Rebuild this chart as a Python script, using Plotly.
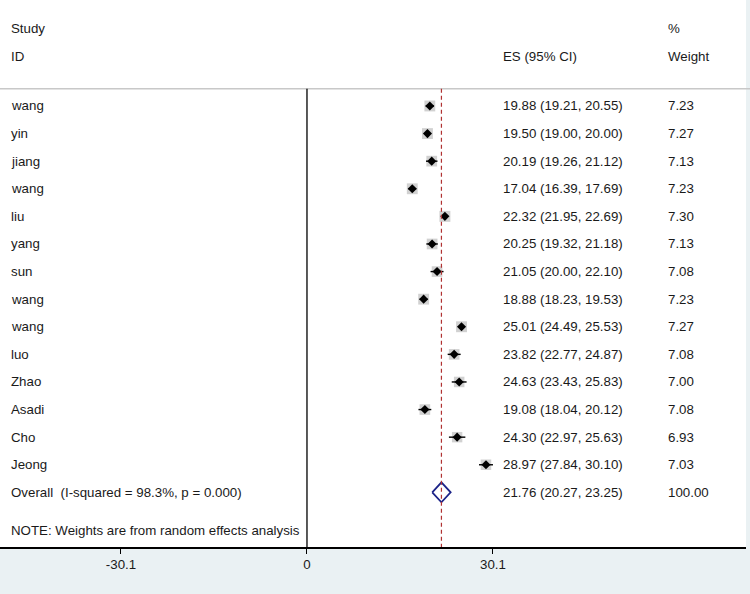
import plotly.graph_objects as go

studies = ["wang", "yin", "jiang", "wang", "liu", "yang", "sun", "wang", "wang",
           "luo", "Zhao", "Asadi", "Cho", "Jeong"]
es = [19.88, 19.50, 20.19, 17.04, 22.32, 20.25, 21.05, 18.88, 25.01, 23.82, 24.63, 19.08, 24.30, 28.97]
lo = [19.21, 19.00, 19.26, 16.39, 21.95, 19.32, 20.00, 18.23, 24.49, 22.77, 23.43, 18.04, 22.97, 27.84]
hi = [20.55, 20.00, 21.12, 17.69, 22.69, 21.18, 22.10, 19.53, 25.53, 24.87, 25.83, 20.12, 25.63, 30.10]
weights = [7.23, 7.27, 7.13, 7.23, 7.30, 7.13, 7.08, 7.23, 7.27, 7.08, 7.00, 7.08, 6.93, 7.03]

overall_label = "Overall  (I-squared = 98.3%, p = 0.000)"
overall_es, overall_lo, overall_hi, overall_w = 21.76, 20.27, 23.25, 100.00
note = "NOTE: Weights are from random effects analysis"
tick_vals = [-30.1, 0, 30.1]
tick_text = ["-30.1", "0", "30.1"]

FONT = "Liberation Sans, Arial, Helvetica, sans-serif"
TXT = "#1a1a1a"
FS = 13.3

rows = list(range(len(studies)))
overall_row = len(studies)
note_row = 15.38
sep_row = -0.62
y_bottom = 15.98
y_top = -3.84

fig = go.Figure()

# weight squares
fig.add_trace(go.Scatter(
    x=es, y=rows, mode="markers",
    marker=dict(symbol="square", color="#bdbdbd",
                size=[w * 1.5 for w in weights], line=dict(width=0)),
    hoverinfo="skip", showlegend=False))

# CI lines + point estimate diamonds
fig.add_trace(go.Scatter(
    x=es, y=rows, mode="markers",
    marker=dict(symbol="diamond", color="black", size=7, line=dict(width=0)),
    error_x=dict(type="data", symmetric=False,
                 array=[h - e for h, e in zip(hi, es)],
                 arrayminus=[e - l for e, l in zip(es, lo)],
                 color="black", thickness=1.4, width=0),
    hoverinfo="skip", showlegend=False))

# overall diamond
hh = 0.36
fig.add_trace(go.Scatter(
    x=[overall_lo, overall_es, overall_hi, overall_es, overall_lo],
    y=[overall_row, overall_row - hh, overall_row, overall_row + hh, overall_row],
    mode="lines", line=dict(color="#1c2388", width=1.8),
    hoverinfo="skip", showlegend=False))

shapes = [
    dict(type="line", xref="paper", yref="y", x0=0, x1=1, y0=sep_row, y1=sep_row,
         line=dict(color="#c8c8c8", width=1.5)),
    dict(type="line", xref="x", yref="y", x0=0, x1=0, y0=sep_row, y1=y_bottom,
         line=dict(color="black", width=1.3)),
    dict(type="line", xref="x", yref="y", x0=overall_es, x1=overall_es, y0=sep_row, y1=y_bottom,
         line=dict(color="#b03232", width=1.2, dash="4px,3px")),
]

ann = []
def add_text(xpx, y, text):
    ann.append(dict(x=xpx / 750, xref="paper", y=y, yref="y", text=text, showarrow=False,
                    xanchor="left", yanchor="middle", font=dict(size=FS, color=TXT, family=FONT)))

add_text(9, -2.79, "Study")
add_text(9, -1.78, "ID")
add_text(501, -1.78, "ES (95% CI)")
add_text(666, -2.79, "%")
add_text(666, -1.78, "Weight")
for r, s, e, l, h, w in zip(rows, studies, es, lo, hi, weights):
    add_text(9, r, s)
    add_text(501, r, f"{e:.2f} ({l:.2f}, {h:.2f})")
    add_text(666, r, f"{w:.2f}")
add_text(9, overall_row, overall_label)
add_text(501, overall_row, f"{overall_es:.2f} ({overall_lo:.2f}, {overall_hi:.2f})")
add_text(666, overall_row, f"{overall_w:.2f}")
add_text(9, note_row, note)

fig.update_layout(
    width=750, height=594,
    margin=dict(l=0, r=0, t=0, b=0),
    paper_bgcolor="#eaf1f3", plot_bgcolor="white",
    shapes=shapes, annotations=ann,
    font=dict(family=FONT, size=FS, color=TXT),
    xaxis=dict(domain=[0, 746 / 750], range=[-49.68, 71.05], showgrid=False, zeroline=False,
               showline=True, linecolor="black", linewidth=1.5,
               tickmode="array", tickvals=tick_vals, ticktext=tick_text,
               ticks="outside", ticklen=5, tickwidth=1, tickcolor="black",
               tickfont=dict(size=FS, color=TXT, family=FONT), fixedrange=True),
    yaxis=dict(domain=[47 / 594, 1], range=[y_bottom, y_top], showgrid=False, zeroline=False,
               showline=False, showticklabels=False, ticks="", fixedrange=True),
)

fig.write_html("out.html", config={"displayModeBar": False, "staticPlot": True},
               post_script="document.body.style.margin='0px';")
